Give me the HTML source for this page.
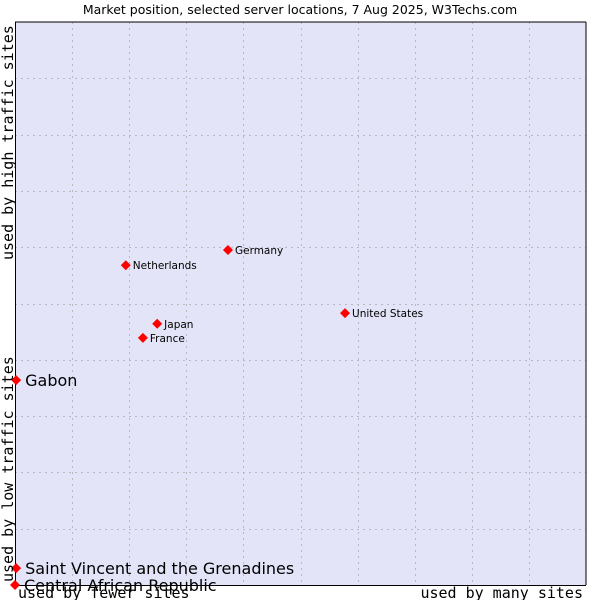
<!DOCTYPE html>
<html><head><meta charset="utf-8"><style>
body{margin:0;background:#fff;}
svg{display:block;}
</style></head><body>
<svg width="600" height="600" xmlns="http://www.w3.org/2000/svg">
<text x="300" y="14" text-anchor="middle" font-family="'DejaVu Sans', sans-serif" font-size="12.5" fill="#000">Market position, selected server locations, 7 Aug 2025, W3Techs.com</text>
<rect x="15" y="22" width="571" height="563" fill="#e3e4f8"/>
<g id="grid"></g>
<line x1="15" y1="22" x2="586" y2="22" stroke="#000"/>
<line x1="586" y1="22" x2="586" y2="585" stroke="#000"/>
<line x1="15.5" y1="22" x2="15.5" y2="585" stroke="#000"/>
<line x1="15" y1="585.5" x2="586" y2="585.5" stroke="#000"/>
<g id="pts"></g>
<text x="18" y="598" font-family="'DejaVu Sans Mono', monospace" font-size="15">used by fewer sites</text>
<text x="583" y="598" text-anchor="end" font-family="'DejaVu Sans Mono', monospace" font-size="15">used by many sites</text>
<text transform="translate(13,582) rotate(-90)" font-family="'DejaVu Sans Mono', monospace" font-size="15">used by low traffic sites</text>
<text transform="translate(13,260) rotate(-90)" font-family="'DejaVu Sans Mono', monospace" font-size="15">used by high traffic sites</text>
</svg>
<script>
const names=["Gabon","Saint Vincent and the Grenadines","Central African Republic","Netherlands","Germany","Japan","France","United States"];
const xVals=[0.2,0.2,0,19.4,37.3,24.9,22.4,57.8];
const yVals=[36.4,3.0,0,56.8,59.5,46.4,43.9,48.3];
const bigLabel=[true,true,true,false,false,false,false,false];
const gridTicks=[10,20,30,40,50,60,70,80,90];
const NS="http://www.w3.org/2000/svg";
const X0=15,X1=586,Y0=585,Y1=22;
function sx(v){return X0+v/100*(X1-X0);}
function sy(v){return Y0-v/100*(Y0-Y1);}
const grid=document.getElementById('grid');
gridTicks.forEach(t=>{
  const v=document.createElementNS(NS,'line');
  
  
  const x=Math.round(sx(t))+0.5;
  v.setAttribute('x1',x);v.setAttribute('x2',x);v.setAttribute('y1',Y1);v.setAttribute('y2',Y0);
  v.setAttribute('stroke','#b8b8c0');v.setAttribute('stroke-dasharray','2,4');
  grid.appendChild(v);
  const h=document.createElementNS(NS,'line');
  
  
  const y=Math.round(sy(t))+0.5;
  h.setAttribute('y1',y);h.setAttribute('y2',y);h.setAttribute('x1',X0);h.setAttribute('x2',X1);
  h.setAttribute('stroke','#b8b8c0');h.setAttribute('stroke-dasharray','2,4');
  grid.appendChild(h);
});
const pts=document.getElementById('pts');
names.forEach((n,i)=>{
  const x=sx(xVals[i]),y=sy(yVals[i]);
  const d=document.createElementNS(NS,'polygon');
  
  
  d.setAttribute('points',`${x},${y-5} ${x+5},${y} ${x},${y+5} ${x-5},${y}`);
  d.setAttribute('fill','#f00');
  pts.appendChild(d);
  const t=document.createElementNS(NS,'text');
  
  
  t.setAttribute('x',x+(bigLabel[i]?9:7));
  t.setAttribute('y',y+(bigLabel[i]?6:4));
  t.setAttribute('font-family',"'DejaVu Sans', sans-serif");
  t.setAttribute('font-size',bigLabel[i]?'16':'10.5');
  t.setAttribute('fill','#000');
  t.textContent=n;
  pts.appendChild(t);
});
</script>
</body></html>
